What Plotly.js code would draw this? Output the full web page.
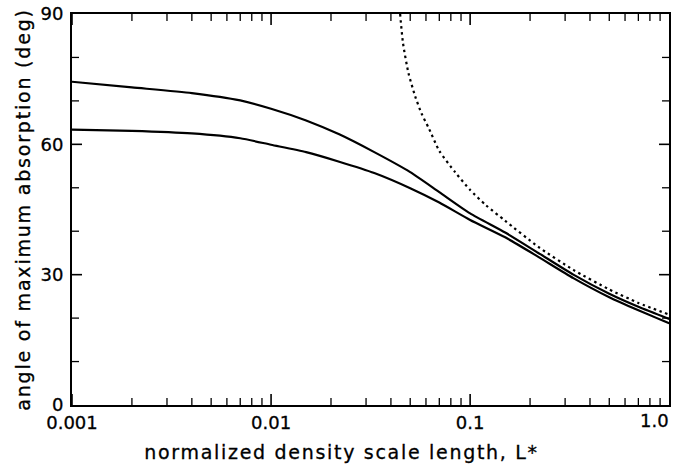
<!DOCTYPE html>
<html>
<head>
<meta charset="utf-8">
<script src="https://cdn.plot.ly/plotly-3.0.1.min.js"></script>
<style>
html,body{margin:0;padding:0;background:#fff;}
#chart{width:682px;height:465px;}
.ytitle{letter-spacing:1.8px;}
.annotation[data-index="1"] text{letter-spacing:1.7px;}
.xtick text,.ytick text,.ytitle,.annotation text{stroke:#000;stroke-width:0.3px;}
</style>
</head>
<body>
<div id="chart"></div>
<script>
// normalized density scale length L*
const upperL = [0.001, 0.002, 0.004, 0.007, 0.01, 0.015, 0.022, 0.033, 0.05, 0.07, 0.1, 0.15, 0.22, 0.33, 0.5, 0.7, 1.0];
const upperAngle = [74.4, 73.1, 71.8, 70.1, 68.2, 65.5, 62.3, 58.2, 53.6, 49.0, 44.1, 39.7, 35.0, 30.0, 25.6, 22.6, 19.8];

const lowerL = [0.001, 0.002, 0.004, 0.007, 0.01, 0.015, 0.022, 0.033, 0.05, 0.07, 0.1, 0.15, 0.22, 0.33, 0.5, 0.7, 1.0];
const lowerAngle = [63.4, 63.1, 62.5, 61.4, 59.9, 58.2, 56.0, 53.4, 49.9, 46.6, 42.6, 38.6, 34.1, 29.2, 24.8, 21.8, 18.8];

const dashL = [0.0445, 0.046, 0.049, 0.053, 0.057, 0.062, 0.07, 0.084, 0.1, 0.12, 0.15, 0.22, 0.33, 0.5, 0.7, 1.0];
const dashAngle = [90, 83.3, 76.4, 71.0, 67.1, 63.7, 58.5, 53.6, 49.5, 46.0, 42.4, 36.4, 31.1, 26.6, 23.5, 20.8];

// tick positions (axis values)
const xDecades = [0.001, 0.01, 0.1];
const xMinorDigits = [2, 3, 4, 5, 6, 7, 8, 9];
const yMajorTicks = [30, 60];
const yMinorTicks = [10, 20, 40, 50, 70, 80];

const lastXTickLabel = '1.0';
const xTitle = 'normalized density scale length, L*';
const yTitle = 'angle of maximum absorption (deg)';

const fontFam = 'DejaVu Sans, sans-serif';

function xTick(v, len, w) {
  return [
    {type: 'line', layer: 'above', xref: 'x', x0: v, x1: v, yref: 'paper', ysizemode: 'pixel', yanchor: 0, y0: 0, y1: len, line: {color: '#000', width: w}},
    {type: 'line', layer: 'above', xref: 'x', x0: v, x1: v, yref: 'paper', ysizemode: 'pixel', yanchor: 1, y0: 0, y1: -len, line: {color: '#000', width: w}}
  ];
}
function yTick(v, len, w) {
  return [
    {type: 'line', layer: 'above', yref: 'y', y0: v, y1: v, xref: 'paper', xsizemode: 'pixel', xanchor: 0, x0: 0, x1: len, line: {color: '#000', width: w}},
    {type: 'line', layer: 'above', yref: 'y', y0: v, y1: v, xref: 'paper', xsizemode: 'pixel', xanchor: 1, x0: 0, x1: -len, line: {color: '#000', width: w}}
  ];
}
const shapes = [];
xDecades.forEach(dec => {
  shapes.push(...xTick(dec, 11, 1.6));
  xMinorDigits.forEach(d => shapes.push(...xTick(+(d * dec).toPrecision(3), 7, 1.3)));
});
yMajorTicks.forEach(v => shapes.push(...yTick(v, 10, 1.6)));
yMinorTicks.forEach(v => shapes.push(...yTick(v, 7, 1.3)));

const traces = [
  {x: upperL, y: upperAngle, mode: 'lines', line: {color: '#000', width: 2.2, shape: 'spline', smoothing: 0.6}, hoverinfo: 'skip'},
  {x: lowerL, y: lowerAngle, mode: 'lines', line: {color: '#000', width: 2.2, shape: 'spline', smoothing: 0.6}, hoverinfo: 'skip'},
  {x: dashL, y: dashAngle, mode: 'lines', line: {color: '#000', width: 2.2, dash: '2.5px,3.5px', shape: 'spline', smoothing: 0.6}, hoverinfo: 'skip'}
];

const layout = {
  width: 682, height: 465,
  margin: {l: 72, r: 13, t: 14, b: 60},
  paper_bgcolor: '#fff', plot_bgcolor: '#fff',
  showlegend: false,
  font: {family: fontFam, color: '#000', size: 18},
  xaxis: {
    type: 'log', range: [-3, -0.001],
    dtick: 1,
    showgrid: false, zeroline: false,
    showline: true, linecolor: '#000', linewidth: 2, mirror: true,
    ticks: '',
    tickfont: {family: fontFam, size: 18, color: '#000'}
  },
  yaxis: {
    range: [0, 90], dtick: 30, tick0: 0,
    showgrid: false, zeroline: false,
    showline: true, linecolor: '#000', linewidth: 2, mirror: true,
    ticks: '',
    tickfont: {family: fontFam, size: 18, color: '#000'},
    ticklabelstandoff: 3,
    title: {text: yTitle, font: {family: fontFam, size: 19, color: '#000'}, standoff: 5}
  },
  shapes: shapes,
  annotations: [
    {x: 1, y: 0, xref: 'paper', yref: 'paper', text: lastXTickLabel, showarrow: false, xanchor: 'right', yanchor: 'top', xshift: 2, yshift: -3, font: {family: fontFam, size: 18, color: '#000'}},
    {x: 0.4514, y: 0, xref: 'paper', yref: 'paper', text: xTitle, showarrow: false, xanchor: 'center', yanchor: 'middle', yshift: -47, font: {family: fontFam, size: 19, color: '#000'}}
  ]
};

Plotly.newPlot('chart', traces, layout, {staticPlot: true, displayModeBar: false});
</script>
</body>
</html>
